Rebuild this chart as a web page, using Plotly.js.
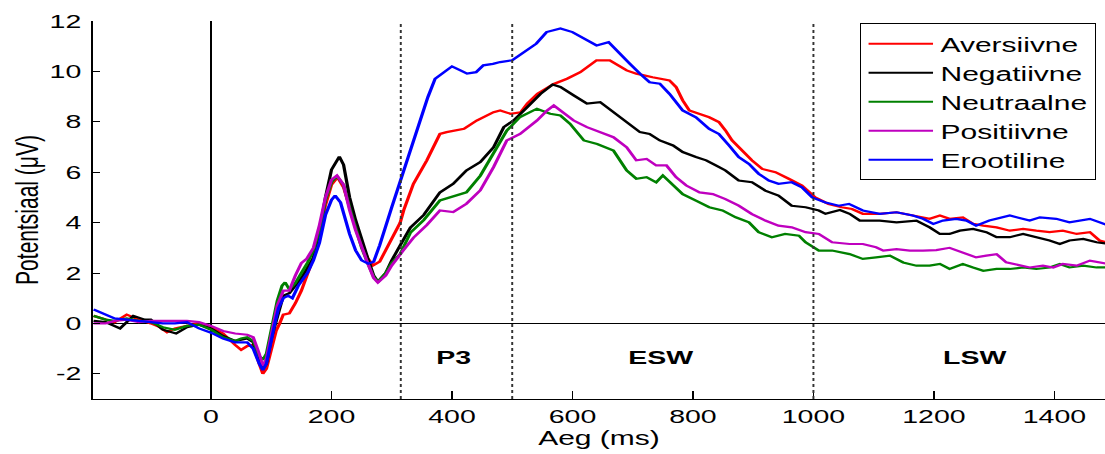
<!DOCTYPE html>
<html>
<head>
<meta charset="utf-8">
<script src="https://cdn.plot.ly/plotly-3.0.1.min.js"></script>
<style>
  html, body { margin: 0; padding: 0; background: #fff; overflow: hidden; }
  #wrap { width: 737px; height: 454px; transform: scaleX(1.4993); transform-origin: 0 0; }
  #chart { width: 737px; height: 454px; }
</style>
</head>
<body>
<div id="wrap"><div id="chart"></div></div>
<script>
// ---- Data (time in ms, potential in µV) ----
const seriesNames = ["Aversiivne", "Negatiivne", "Neutraalne", "Positiivne", "Erootiline"];

const tAversiivne = [-195,-175,-160,-140,-125,-100,-85,-73,-60,-40,-20,0,20,40,50,60,70,80,86,92,100,108,114,120,130,140,150,160,170,180,190,200,210,220,230,240,250,260,269,280,291,300,314,320,336,358,380,391,420,441,469,480,497,514,525,542,569,591,613,640,662,690,706,733,761,772,783,794,810,827,843,854,865,882,898,915,937,959,981,1003,1025,1047,1064,1082,1110,1138,1165,1193,1210,1226,1248,1265,1282,1304,1326,1348,1370,1392,1414,1437,1459,1475,1490];
const vAversiivne = [0.3,0.15,0.05,0.35,0.2,0.0,-0.15,-0.35,-0.2,-0.1,0.0,-0.15,-0.4,-0.85,-1.05,-0.9,-0.85,-1.6,-2.0,-1.8,-1.0,-0.3,0.0,0.35,0.4,0.8,1.3,2.0,2.6,3.5,4.7,5.5,5.8,5.4,4.6,3.9,3.1,2.6,2.3,2.45,2.95,3.3,4.0,4.5,5.54,6.46,7.52,7.59,7.72,8.05,8.38,8.45,8.32,8.38,8.72,9.11,9.5,9.71,9.97,10.44,10.44,10.04,9.91,9.77,9.64,9.38,8.85,8.45,8.32,8.18,7.99,7.66,7.26,6.86,6.47,6.13,6.0,5.74,5.47,5.0,4.74,4.61,4.54,4.35,4.35,4.41,4.28,4.15,4.28,4.15,4.21,3.95,3.88,3.81,3.68,3.75,3.68,3.62,3.68,3.55,3.62,3.29,3.2];

const tNegatiivne = [-195,-175,-151,-129,-110,-100,-80,-58,-40,-20,0,20,40,50,60,70,80,86,92,100,110,120,130,140,150,160,170,180,190,200,213,220,230,240,250,260,270,277,290,300,314,331,353,380,402,424,447,469,486,502,525,547,567,580,602,624,646,668,690,712,728,745,767,783,805,822,838,854,876,898,920,942,964,987,1009,1020,1044,1060,1077,1110,1138,1171,1193,1210,1226,1243,1265,1287,1304,1326,1348,1370,1392,1409,1425,1448,1470,1490];
const vNegatiivne = [0.1,0.05,-0.2,0.3,0.15,0.15,-0.25,-0.4,-0.15,-0.05,-0.2,-0.5,-0.7,-0.65,-0.6,-0.75,-1.5,-1.8,-1.6,-0.6,0.3,1.1,1.2,1.5,1.8,2.2,2.6,3.6,5.0,6.1,6.62,6.3,5.0,4.1,3.3,2.6,1.9,1.65,2.0,2.5,3.1,3.8,4.3,5.2,5.54,6.07,6.4,6.99,7.79,8.05,8.58,9.11,9.48,9.38,9.05,8.72,8.78,8.38,7.99,7.59,7.52,7.26,7.06,6.8,6.6,6.47,6.27,6.07,5.67,5.6,5.27,5.07,4.67,4.61,4.48,4.35,4.5,4.35,4.08,4.08,4.01,4.08,3.81,3.55,3.55,3.68,3.75,3.62,3.42,3.42,3.55,3.42,3.29,3.15,3.29,3.35,3.22,3.15];

const tNeutraalne = [-195,-175,-160,-140,-120,-100,-80,-60,-40,-20,0,20,40,50,60,70,80,86,92,100,110,118,123,130,140,150,160,170,180,190,200,209,220,230,240,250,260,270,277,290,300,314,331,353,380,402,424,447,469,491,513,541,563,580,596,619,641,668,690,706,723,739,750,767,783,805,827,849,871,893,909,931,953,976,987,1009,1031,1060,1082,1104,1127,1149,1171,1193,1210,1226,1248,1265,1282,1304,1326,1348,1370,1392,1409,1425,1448,1470,1490];
const vNeutraalne = [0.3,0.15,0.1,0.2,0.1,0.05,-0.15,-0.25,-0.1,-0.05,-0.25,-0.55,-0.7,-0.6,-0.55,-0.7,-1.3,-1.45,-1.2,-0.3,0.9,1.5,1.63,1.35,1.6,2.0,2.4,2.9,3.7,4.9,5.6,5.85,5.5,4.6,3.8,3.0,2.4,1.85,1.65,2.0,2.4,2.75,3.6,4.1,4.88,5.03,5.2,5.86,6.72,7.65,8.19,8.52,8.32,8.25,7.92,7.26,7.12,6.86,6.07,5.74,5.8,5.6,5.87,5.47,5.13,4.87,4.61,4.48,4.21,4.01,3.62,3.42,3.55,3.48,3.22,2.89,2.89,2.75,2.56,2.62,2.69,2.42,2.29,2.29,2.36,2.16,2.36,2.22,2.09,2.16,2.16,2.22,2.16,2.22,2.36,2.22,2.29,2.22,2.22];

const tPositiivne = [-195,-175,-160,-140,-120,-100,-80,-60,-40,-20,0,20,40,60,70,80,86,92,100,110,120,130,140,150,159,170,180,190,200,209,220,230,240,250,260,270,277,290,300,319,336,358,380,402,424,447,469,491,513,541,558,569,580,602,624,646,668,690,706,723,739,756,772,789,811,833,854,876,898,920,942,964,987,1009,1031,1060,1082,1104,1116,1138,1160,1182,1204,1226,1248,1270,1287,1304,1320,1343,1359,1381,1398,1414,1437,1459,1490];
const vPositiivne = [0.0,0.0,0.1,0.15,0.05,0.1,0.1,0.1,0.1,0.05,-0.1,-0.3,-0.4,-0.45,-0.55,-1.2,-1.7,-1.4,-0.4,0.7,1.3,1.3,1.9,2.4,2.57,3.0,3.9,5.0,5.7,5.87,5.5,4.5,3.7,3.0,2.4,1.8,1.62,1.9,2.3,2.89,3.4,3.9,4.48,4.42,4.75,5.28,6.2,7.26,7.52,8.05,8.45,8.65,8.45,8.05,7.79,7.6,7.39,6.99,6.47,6.53,6.27,6.27,5.8,5.47,5.2,5.13,4.93,4.67,4.34,4.08,3.88,3.81,3.62,3.55,3.22,3.15,3.15,3.02,2.89,2.95,2.89,2.89,2.91,3.0,2.82,2.62,2.69,2.75,2.42,2.29,2.22,2.29,2.22,2.36,2.29,2.49,2.36];

const tErootiline = [-195,-175,-160,-140,-120,-100,-80,-60,-40,-20,0,20,40,60,70,80,86,92,100,106,112,120,128,135,145,160,170,180,190,200,206,215,230,240,250,261,270,280,300,320,340,360,372,380,400,414,425,440,452,468,480,500,520,540,557,580,600,620,640,660,673,695,712,728,745,761,783,805,827,843,860,876,893,909,926,942,964,981,998,1020,1042,1059,1082,1110,1138,1165,1182,1199,1215,1237,1254,1270,1292,1326,1359,1376,1403,1425,1459,1490];
const vErootiline = [0.55,0.35,0.2,0.15,0.1,0.05,0.0,0.0,0.05,-0.2,-0.37,-0.6,-0.75,-0.75,-1.0,-1.6,-1.85,-1.6,-0.6,0.0,0.6,1.0,1.1,1.0,1.5,2.0,2.5,3.2,4.3,4.9,5.07,4.8,3.55,2.9,2.5,2.37,2.45,3.1,4.61,6.07,7.52,8.98,9.71,9.84,10.2,10.04,9.91,9.97,10.24,10.3,10.37,10.44,10.77,11.1,11.56,11.7,11.56,11.3,11.03,11.16,10.83,10.31,9.91,9.57,9.51,9.11,8.45,8.18,7.72,7.52,7.06,6.6,6.33,5.94,5.67,5.54,5.6,5.4,5.0,4.8,4.67,4.74,4.48,4.35,4.41,4.28,4.15,3.95,4.08,4.15,4.08,3.88,4.08,4.28,4.08,4.21,4.15,4.01,4.15,3.88];

const windowBounds = [315, 500, 1000];          // dotted window separators (ms)
const windowLabels = ["P3", "ESW", "LSW"];
const windowLabelX = [402, 745, 1268];
const xTickVals = [0, 200, 400, 600, 800, 1000, 1200, 1400];
const yTickVals = [-2, 0, 2, 4, 6, 8, 10, 12];
const yTickText = ["-2", "0", "2", "4", "6", "8", "10", "12"];

// ---- Styles ----
const colors = ["#ff0000", "#000000", "#008000", "#bf00bf", "#0000ff"];
const xs = [tAversiivne, tNegatiivne, tNeutraalne, tPositiivne, tErootiline];
const ys = [vAversiivne, vNegatiivne, vNeutraalne, vPositiivne, vErootiline];
const FONT = "Liberation Sans, Arial, Helvetica, sans-serif";

const traces = seriesNames.map((name, i) => ({
  type: "scatter", mode: "lines", name: name,
  x: xs[i], y: ys[i],
  line: { color: colors[i], width: 2.2 },
  legendgroup: name
}));

const shapes = windowBounds.map(b => ({
  type: "line", xref: "x", yref: "paper", x0: b, x1: b, y0: 0, y1: 1,
  line: { color: "#333", width: 1.3, dash: "dot" }
}));

const annotations = windowLabels.map((lab, i) => ({
  x: windowLabelX[i], y: -1.35, xref: "x", yref: "y",
  text: "<b>" + lab + "</b>", showarrow: false,
  font: { family: FONT, size: 19, color: "#000" }
}));

const layout = {
  width: 737, height: 454,
  margin: { l: 62, r: 0, t: 21, b: 55 },
  paper_bgcolor: "#fff", plot_bgcolor: "#fff",
  font: { family: FONT, size: 19, color: "#000" },
  showlegend: true,
  legend: {
    x: 0.7575, y: 0.994, xanchor: "left", yanchor: "top",
    bgcolor: "#fff", bordercolor: "#000", borderwidth: 1,
    font: { family: FONT, size: 20, color: "#000" },
    itemwidth: 43, tracegroupgap: 1, traceorder: "normal"
  },
  xaxis: {
    range: [-196, 1484], tickvals: xTickVals, ticks: "inside", ticklen: 8, tickwidth: 1,
    tickcolor: "#000", showgrid: false, showline: true, linecolor: "#000", linewidth: 1,
    zeroline: true, zerolinecolor: "#000", zerolinewidth: 1, mirror: false,
    tickfont: { family: FONT, size: 19, color: "#000" },
    title: { text: "Aeg (ms)", font: { family: FONT, size: 20, color: "#000" }, standoff: 3 }
  },
  yaxis: {
    range: [-3, 12], tickvals: yTickVals, ticktext: yTickText, ticks: "inside", ticklen: 5, tickwidth: 1,
    tickcolor: "#000", showgrid: false, showline: true, linecolor: "#000", linewidth: 1,
    zeroline: true, zerolinecolor: "#000", zerolinewidth: 1,
    tickfont: { family: FONT, size: 19, color: "#000" },
    ticklabelstandoff: 3,
    title: { text: "Potentsiaal (μV)", font: { family: FONT, size: 21, color: "#000" }, standoff: 1 }
  },
  shapes: shapes,
  annotations: annotations
};

Plotly.newPlot("chart", traces, layout, { staticPlot: true, displayModeBar: false });
</script>
</body>
</html>
